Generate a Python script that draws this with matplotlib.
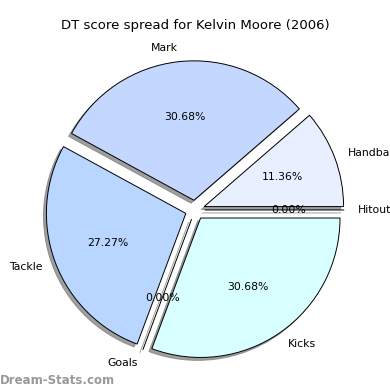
import matplotlib
matplotlib.use('Agg')
import matplotlib.pyplot as plt

# DT score spread, order as drawn counter-clockwise from 0 degrees
labels = ['Hitout', 'Handball', 'Mark', 'Tackle', 'Goals', 'Kicks']
values = [0, 10, 27, 24, 0, 27]
colors = ['#f0f4ff', '#e8f0ff', '#c4d8ff', '#b8d6ff', '#d0f0ff', '#d8ffff']

fig = plt.figure(figsize=(3.9, 3.9), dpi=100)
ax = fig.add_axes([43 / 390, 28 / 390, 304 / 390, 304 / 390])

wedges, texts, autotexts = ax.pie(
    values, labels=labels, colors=colors, explode=[0.07] * len(values),
    autopct='%1.2f%%', startangle=0,
    shadow={'ox': -0.015, 'oy': -0.015, 'facecolor': '#777777',
            'edgecolor': '#777777', 'alpha': 0.7},
    wedgeprops={'edgecolor': 'black', 'linewidth': 0.7},
    textprops={'fontsize': 7.8})
ax.set_xlim(-1.09, 1.09)
ax.set_ylim(-1.09, 1.09)
ax.set_aspect('equal')
ax.axis('off')

fig.text(0.5, 1 - 25 / 390, 'DT score spread for Kelvin Moore (2006)',
         ha='center', va='center', fontsize=9.5)
fig.text(0.0, 10 / 390, 'Dream-Stats.com', ha='left', va='center',
         fontsize=8.5, color='#999999', fontweight='bold')

fig.savefig('out.png', dpi=100)
